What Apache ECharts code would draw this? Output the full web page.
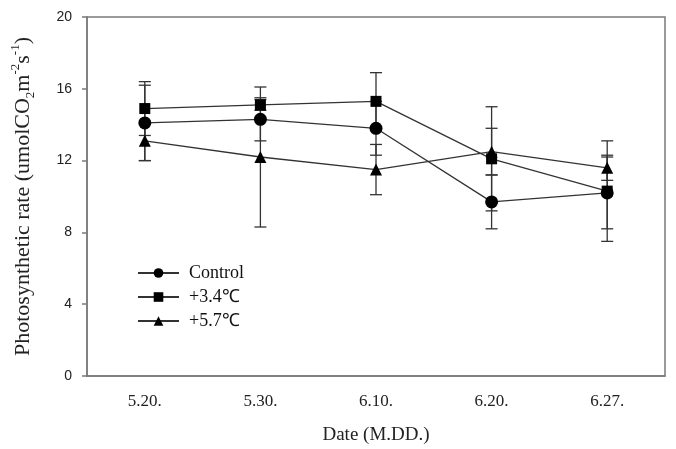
<!DOCTYPE html>
<html>
<head>
<meta charset="utf-8">
<script src="https://cdn.jsdelivr.net/npm/echarts@6/dist/echarts.min.js"></script>
<style>html,body{margin:0;padding:0;background:#fff}#c{width:676px;height:449px}</style>
</head>
<body>
<div id="c"></div>
<script>
var categories = ['5.20.', '5.30.', '6.10.', '6.20.', '6.27.'];
var yTicks = [0, 4, 8, 12, 16, 20];
var seriesNames = ['Control', '+3.4\u2103', '+5.7\u2103'];
var controlMean = [14.1, 14.3, 13.8, 9.7, 10.2];
var controlSd   = [2.1, 1.2, 1.5, 1.5, 2.0];
var warm34Mean  = [14.9, 15.1, 15.3, 12.1, 10.3];
var warm34Sd    = [1.5, 0.3, 1.6, 2.9, 2.8];
var warm57Mean  = [13.1, 12.2, 11.5, 12.5, 11.6];
var warm57Sd    = [1.1, 3.9, 1.4, 1.3, 0.7];

var chart = echarts.init(document.getElementById('c'), null, {renderer: 'canvas'});
var serif = 'Liberation Serif, Times New Roman, serif';
var sans = 'Liberation Sans, Arial, sans-serif';
var axisGray = '#7a7a7a';

function errData(mean, sd) {
  return mean.map(function (m, i) { return [i, m - sd[i], m + sd[i]]; });
}
function errSeries(mean, sd) {
  return {
    type: 'custom',
    silent: true,
    z: 1,
    data: errData(mean, sd),
    encode: {x: 0, y: [1, 2]},
    renderItem: function (params, api) {
      var i = api.value(0);
      var lo = api.coord([i, api.value(1)]);
      var hi = api.coord([i, api.value(2)]);
      var w = 6;
      var st = {stroke: '#333', lineWidth: 1.3};
      return {
        type: 'group',
        children: [
          {type: 'line', shape: {x1: lo[0], y1: lo[1], x2: hi[0], y2: hi[1]}, style: st},
          {type: 'line', shape: {x1: lo[0] - w, y1: lo[1], x2: lo[0] + w, y2: lo[1]}, style: st},
          {type: 'line', shape: {x1: hi[0] - w, y1: hi[1], x2: hi[0] + w, y2: hi[1]}, style: st}
        ]
      };
    }
  };
}
function lineSeries(name, data, symbol, size) {
  return {
    name: name,
    type: 'line',
    data: data,
    symbol: symbol,
    symbolSize: size,
    z: 3,
    itemStyle: {color: '#000'},
    lineStyle: {color: '#333', width: 1.3},
    emphasis: {disabled: true}
  };
}

chart.setOption({
  animation: false,
  backgroundColor: '#fff',
  grid: {left: 87, top: 17, right: 11, bottom: 73, containLabel: false, outerBoundsMode: 'none',
         show: true, borderColor: axisGray, borderWidth: 1.5},
  legend: {
    orient: 'vertical',
    left: 132,
    top: 259,
    itemWidth: 41,
    itemHeight: 12,
    itemGap: 6,
    data: seriesNames,
    textStyle: {fontFamily: serif, fontSize: 18, color: '#111', padding: [0, 0, 0, 5]}
  },
  xAxis: {
    type: 'category',
    data: categories,
    boundaryGap: true,
    axisLine: {lineStyle: {color: axisGray, width: 1.5}},
    axisTick: {alignWithLabel: true, length: 5, lineStyle: {color: axisGray, width: 1.5}},
    axisLabel: {fontFamily: serif, fontSize: 17, color: '#222', margin: 17},
    name: 'Date (M.DD.)',
    nameLocation: 'middle',
    nameGap: 50,
    nameTextStyle: {fontFamily: serif, fontSize: 19, color: '#222'},
    splitLine: {show: false}
  },
  yAxis: {
    type: 'value',
    min: yTicks[0],
    max: yTicks[yTicks.length - 1],
    interval: 4,
    axisLine: {show: true, lineStyle: {color: axisGray, width: 1.5}},
    axisTick: {show: true, length: 5, lineStyle: {color: axisGray, width: 1.5}},
    axisLabel: {fontFamily: sans, fontSize: 14, color: '#222', margin: 15},
    splitLine: {show: false},
    name: 'Photosynthetic rate (umolCO{sub|2}m{sup|-2}s{sup|-1})',
    nameLocation: 'middle',
    nameRotate: 90,
    nameGap: 50,
    nameTextStyle: {
      fontFamily: serif, fontSize: 22, color: '#222', lineHeight: 28,
      rich: {
        sub: {fontFamily: serif, fontSize: 13, color: '#222', verticalAlign: 'bottom', lineHeight: 28, padding: [9, 0, 0, 0]},
        sup: {fontFamily: serif, fontSize: 13, color: '#222', verticalAlign: 'top', lineHeight: 28, padding: [0, 0, 9, 0]}
      }
    }
  },
  series: [
    errSeries(controlMean, controlSd),
    errSeries(warm34Mean, warm34Sd),
    errSeries(warm57Mean, warm57Sd),
    lineSeries(seriesNames[0], controlMean, 'circle', 13),
    lineSeries(seriesNames[1], warm34Mean, 'rect', 11),
    lineSeries(seriesNames[2], warm57Mean, 'triangle', 12)
  ]
});
</script>
</body>
</html>
